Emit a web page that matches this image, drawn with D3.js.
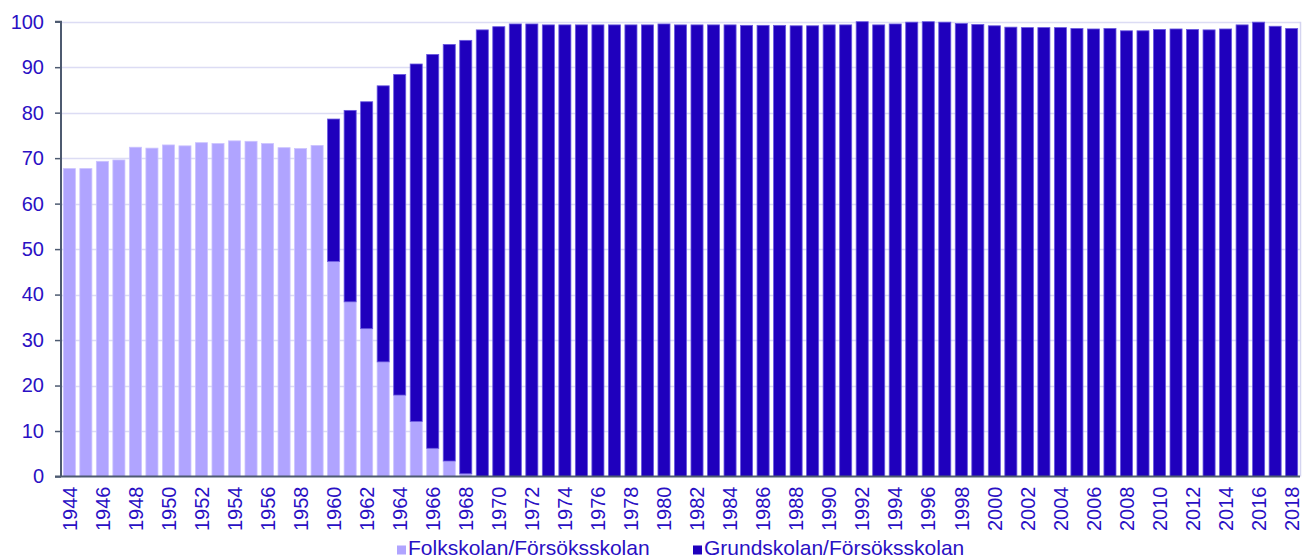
<!DOCTYPE html>
<html>
<head>
<meta charset="utf-8">
<script src="https://cdn.jsdelivr.net/npm/d3@7"></script>
<style>
  html, body { margin: 0; padding: 0; background: #fff; }
  svg { display: block; font-family: "Liberation Sans", Arial, sans-serif; }
</style>
</head>
<body>
<svg id="chart" width="1314" height="560"></svg>
<script>
// Years 1944–2018
const years = d3.range(1944, 2019).map(String);

// Folkskolan/Försöksskolan (percent)
const folkskolan = [
  67.7, 67.7, 69.3, 69.6, 72.4, 72.2, 72.9, 72.7, 73.4, 73.2,
  73.8, 73.7, 73.2, 72.3, 72.1, 72.8,
  47.3, 38.4, 32.5, 25.2, 17.9, 12.1, 6.2, 3.4, 0.6,
  0, 0, 0, 0, 0, 0, 0, 0, 0, 0,
  0, 0, 0, 0, 0, 0, 0, 0, 0, 0,
  0, 0, 0, 0, 0, 0, 0, 0, 0, 0,
  0, 0, 0, 0, 0, 0, 0, 0, 0, 0,
  0, 0, 0, 0, 0, 0, 0, 0, 0, 0
];

// Total (both series stacked) per year
const totals = [
  67.7, 67.7, 69.3, 69.6, 72.4, 72.2, 72.9, 72.7, 73.4, 73.2,
  73.8, 73.7, 73.2, 72.3, 72.1, 72.8,
  78.6, 80.5, 82.4, 85.9, 88.4, 90.7, 92.8, 95.0, 95.9,
  98.2, 98.9, 99.5, 99.5, 99.3, 99.3, 99.3, 99.3, 99.3, 99.3,
  99.3, 99.5, 99.3, 99.3, 99.3, 99.3, 99.2, 99.2, 99.2, 99.1,
  99.1, 99.3, 99.3, 100.0, 99.3, 99.5, 99.9, 100.0, 99.9, 99.6,
  99.4, 99.1, 98.8, 98.7, 98.7, 98.7, 98.5, 98.4, 98.5, 98.0,
  98.0, 98.3, 98.4, 98.3, 98.2, 98.4, 99.3, 99.9, 99.0, 98.5
];

// Grundskolan/Försöksskolan (percent)
const grundskolan = totals.map((t, i) => +(t - folkskolan[i]).toFixed(1));

const yTicks = [0, 10, 20, 30, 40, 50, 60, 70, 80, 90, 100];
const seriesNames = ["Folkskolan/Försöksskolan", "Grundskolan/Försöksskolan"];
const seriesColors = ["#b0a4ff", "#1f00bd"];
const seriesStroke = ["#cbc3ff", "#6a58e0"];
const textColor = "#2a10c4";

const svg = d3.select("#chart");
const margin = { left: 61, right: 14 };
const W = 1314;
const x0 = margin.left, x1 = W - margin.right;
const yTop = 21.7, yBottom = 476.5;

const x = d3.scaleBand().domain(years).range([x0, x1]).paddingInner(0.27).paddingOuter(0.14);
const y = d3.scaleLinear().domain([0, 100]).range([yBottom, yTop]);

// Gridlines
svg.append("g").selectAll("line").data(yTicks.filter(d => d > 0)).join("line")
  .attr("x1", x0).attr("x2", x1)
  .attr("y1", d => Math.round(y(d)) + 0.5).attr("y2", d => Math.round(y(d)) + 0.5)
  .attr("stroke", "#dcdcf4").attr("stroke-width", 1.3);

// Right border of plot
svg.append("line").attr("x1", x1 + 0.5).attr("x2", x1 + 0.5)
  .attr("y1", y(100)).attr("y2", yBottom)
  .attr("stroke", "#d4d4f0").attr("stroke-width", 1.5);

// Stack
const stackData = years.map((yr, i) => ({ year: yr, f: folkskolan[i], g: grundskolan[i] }));
const stacked = d3.stack().keys(["f", "g"])(stackData);

svg.append("g").selectAll("g").data(stacked).join("g")
  .attr("fill", (d, i) => seriesColors[i])
  .attr("stroke", (d, i) => seriesStroke[i])
  .attr("stroke-width", 0.8)
  .selectAll("rect").data(d => d.filter(p => p[1] - p[0] > 0)).join("rect")
  .attr("x", d => x(d.data.year))
  .attr("width", x.bandwidth())
  .attr("y", d => y(d[1]))
  .attr("height", d => y(d[0]) - y(d[1]));

// Y axis
const yAxis = d3.axisLeft(y).tickValues(yTicks).tickSize(6).tickPadding(11);
const gy = svg.append("g").attr("transform", `translate(${x0},0)`).call(yAxis);
gy.select(".domain").attr("stroke", "#4d5a70").attr("stroke-width", 2)
  .attr("d", `M-6,${y(100)}H0V${yBottom}`);
gy.selectAll(".tick line").attr("stroke", "#4d5a70").attr("stroke-width", 1.5);
gy.selectAll(".tick text").attr("fill", textColor).attr("font-size", "20px")
  .attr("font-family", "Liberation Sans, Arial, sans-serif");

// X axis
const xAxis = d3.axisBottom(x).tickValues(years.filter((d, i) => i % 2 === 0)).tickSize(0).tickPadding(0);
const gx = svg.append("g").attr("transform", `translate(0,${yBottom})`).call(xAxis);
gx.select(".domain").attr("stroke", "#4d5a70").attr("stroke-width", 2)
  .attr("d", `M${x0 - 6},0H${x1}`);
gx.selectAll(".tick text")
  .attr("fill", textColor).attr("font-size", "20px")
  .attr("font-family", "Liberation Sans, Arial, sans-serif")
  .attr("transform", "rotate(-90)")
  .attr("text-anchor", "end")
  .attr("x", -10).attr("y", 0).attr("dy", "0.36em");

// Legend
const legendItems = [
  { name: seriesNames[0], color: seriesColors[0], x: 397 },
  { name: seriesNames[1], color: seriesColors[1], x: 693 }
];
const lg = svg.append("g");
legendItems.forEach(it => {
  lg.append("rect").attr("x", it.x).attr("y", 545.5).attr("width", 9).attr("height", 9).attr("fill", it.color);
  lg.append("text").attr("x", it.x + 11).attr("y", 555).attr("fill", textColor)
    .attr("font-size", "21px").text(it.name);
});
</script>
</body>
</html>
